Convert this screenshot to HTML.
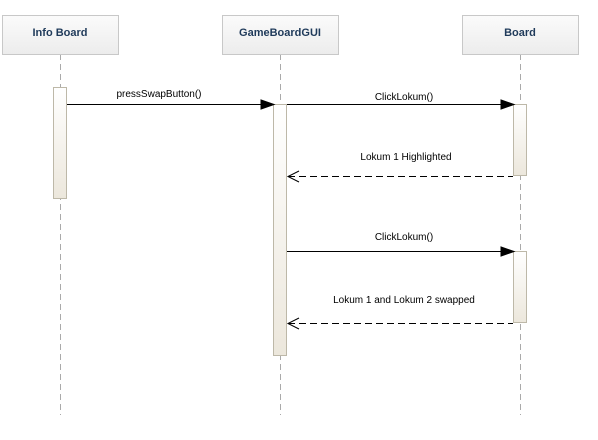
<!DOCTYPE html><html><head><style>body{margin:0;background:#fff}</style></head><body>
<svg width="598" height="435" xmlns="http://www.w3.org/2000/svg" font-family="Liberation Sans, sans-serif">
<defs>
<linearGradient id="h" x1="0" y1="0" x2="0" y2="1"><stop offset="0" stop-color="#fbfbfb"/><stop offset="1" stop-color="#ececec"/></linearGradient>
<linearGradient id="a" x1="0" y1="0" x2="0" y2="1"><stop offset="0" stop-color="#fff"/><stop offset="1" stop-color="#ece7dc"/></linearGradient>
</defs>
<g stroke="#aaa" stroke-dasharray="6,4" stroke-width="1">
<line x1="60.5" y1="54" x2="60.5" y2="415"/><line x1="280.5" y1="54" x2="280.5" y2="415"/><line x1="520.5" y1="54" x2="520.5" y2="415"/>
</g>
<g fill="url(#h)" stroke="#c8c8c8">
<rect x="2.5" y="15.5" width="116" height="39"/><rect x="222.5" y="15.5" width="116" height="39"/><rect x="462.5" y="15.5" width="116" height="39"/>
</g>
<g font-size="11" font-weight="bold" fill="#1f3a5a" text-anchor="middle">
<text x="60" y="36">Info Board</text><text x="280" y="36">GameBoardGUI</text><text x="520" y="36">Board</text>
</g>
<g fill="url(#a)" stroke="#bdb8a8">
<rect x="53.5" y="87.5" width="13" height="111"/><rect x="273.5" y="104.5" width="13" height="251"/>
<rect x="513.5" y="104.5" width="13" height="71"/><rect x="513.5" y="251.5" width="13" height="71"/>
</g>
<g stroke="#000" stroke-width="1">
<line x1="67" y1="104.5" x2="262" y2="104.5"/><polygon points="274,104.5 261,100 261,109" fill="#000"/>
<line x1="287" y1="104.5" x2="502" y2="104.5"/><polygon points="514,104.5 501,100 501,109" fill="#000"/>
<line x1="287" y1="251.5" x2="502" y2="251.5"/><polygon points="514,251.5 501,247 501,256" fill="#000"/>
<line x1="288" y1="176.5" x2="513" y2="176.5" stroke-dasharray="7,4"/><polyline points="299,171 288,176.5 299,182" fill="none"/>
<line x1="288" y1="323.5" x2="513" y2="323.5" stroke-dasharray="7,4"/><polyline points="299,318 288,323.5 299,329" fill="none"/>
</g>
<g font-size="10" fill="#000" text-anchor="middle">
<text x="159" y="97">pressSwapButton()</text>
<text x="404" y="100">ClickLokum()</text>
<text x="406" y="160">Lokum 1 Highlighted</text>
<text x="404" y="240">ClickLokum()</text>
<text x="404" y="303">Lokum 1 and Lokum 2 swapped</text>
</g>
</svg></body></html>
